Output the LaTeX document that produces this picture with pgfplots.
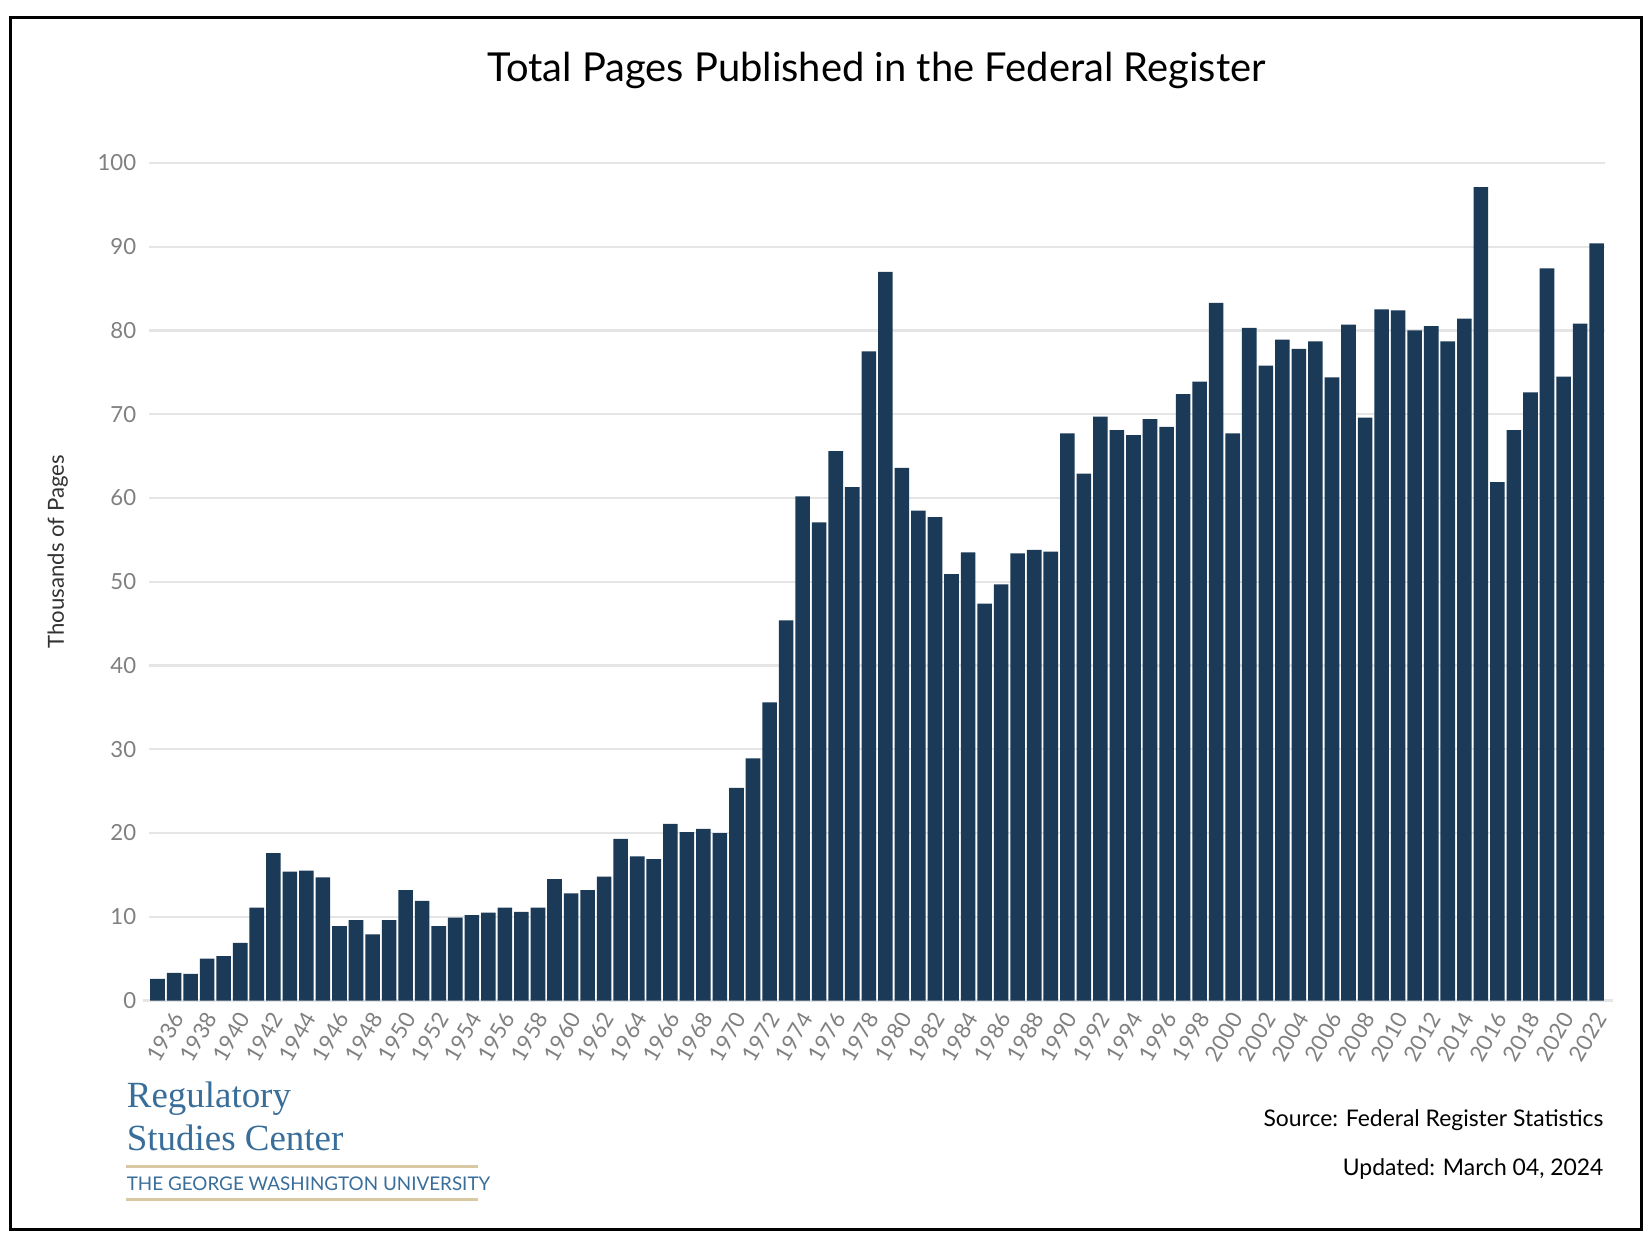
\documentclass[border=0pt]{standalone}
\usepackage{pgfplots}
\pgfplotsset{compat=1.18}
\usepackage{fontspec}
\setmainfont{Lato}
\newfontfamily\logofont{Liberation Serif}
\definecolor{bar}{HTML}{1A3A57}
\definecolor{logo}{HTML}{3A6E9A}
\definecolor{tan}{HTML}{D8C9A3}
\begin{document}
\begin{tikzpicture}
\fill[white] (0,0) rectangle (15.68,11.86);
\draw[line width=0.8pt] (0.10,11.69) rectangle (15.62,0.16);
\node[font=\fontsize{10.8}{13}\selectfont] at (8.34,11.19) {Total Pages Published in the Federal Register};
\node[rotate=90,font=\fontsize{6}{7}\selectfont,text=black!80] at (0.55,6.61) {Thousands of Pages};
\begin{axis}[at={(1.42cm,2.34cm)},anchor=origin,scale only axis,width=13.85cm,height=7.97cm,
 xmin=1935.5,xmax=2023.5,ymin=0,ymax=100,clip=false,
 axis x line*=bottom, axis y line*=left, x axis line style={draw=none}, y axis line style={draw=none},
 ytick={0,10,...,100},ymajorgrids,grid style={gray!20,line width=0.6pt},
 xtick={1936,1938,...,2022},
 xticklabel style={rotate=60,anchor=north east,xshift=3pt,yshift=-1pt,font=\fontsize{6}{7}\selectfont,text=gray},
 yticklabel style={font=\fontsize{6}{7}\selectfont,text=gray},
 /pgf/number format/assume math mode=true,
 /pgf/number format/1000 sep={},
 major tick length=0pt,
 ]
\draw[gray!20,line width=0.6pt] (axis cs:1935.1,0)--(axis cs:2024,0);
\addplot[ybar,bar width=0.88,fill=bar,draw=none] coordinates {
(1936,2.6)(1937,3.3)(1938,3.2)(1939,5.0)(1940,5.3)(1941,6.9)(1942,11.1)(1943,17.6)(1944,15.4)(1945,15.5)
(1946,14.7)(1947,8.9)(1948,9.6)(1949,7.9)(1950,9.6)(1951,13.2)(1952,11.9)(1953,8.9)(1954,9.9)(1955,10.2)
(1956,10.5)(1957,11.1)(1958,10.6)(1959,11.1)(1960,14.5)(1961,12.8)(1962,13.2)(1963,14.8)(1964,19.3)(1965,17.2)
(1966,16.9)(1967,21.1)(1968,20.1)(1969,20.5)(1970,20.0)(1971,25.4)(1972,28.9)(1973,35.6)(1974,45.4)(1975,60.2)
(1976,57.1)(1977,65.6)(1978,61.3)(1979,77.5)(1980,87.0)(1981,63.6)(1982,58.5)(1983,57.7)(1984,50.9)(1985,53.5)
(1986,47.4)(1987,49.7)(1988,53.4)(1989,53.8)(1990,53.6)(1991,67.7)(1992,62.9)(1993,69.7)(1994,68.1)(1995,67.5)
(1996,69.4)(1997,68.5)(1998,72.4)(1999,73.9)(2000,83.3)(2001,67.7)(2002,80.3)(2003,75.8)(2004,78.9)(2005,77.8)
(2006,78.7)(2007,74.4)(2008,80.7)(2009,69.6)(2010,82.5)(2011,82.4)(2012,80.0)(2013,80.5)(2014,78.7)(2015,81.4)
(2016,97.1)(2017,61.9)(2018,68.1)(2019,72.6)(2020,87.4)(2021,74.5)(2022,80.8)(2023,90.4)};
\end{axis}
\node[anchor=west,inner xsep=0pt,text=logo,font=\logofont\fontsize{10}{12}\selectfont] at (1.20,1.41) {Regulatory};
\node[anchor=west,inner xsep=0pt,text=logo,font=\logofont\fontsize{10}{12}\selectfont] at (1.20,1.03) {Studies Center};
\draw[tan,line width=0.7pt] (1.20,0.76)--(4.55,0.76);
\draw[tan,line width=0.7pt] (1.20,0.45)--(4.55,0.45);
\node[anchor=west,inner xsep=0pt,text=logo,font=\fontsize{5.1}{6}\selectfont] at (1.20,0.60) {THE GEORGE WASHINGTON UNIVERSITY};
\node[anchor=east,font=\fontsize{6.2}{8}\selectfont] at (15.38,1.20) {Source: Federal Register Statistics};
\node[anchor=east,font=\fontsize{6.2}{8}\selectfont] at (15.38,0.74) {Updated: March 04, 2024};
\end{tikzpicture}
\end{document}
